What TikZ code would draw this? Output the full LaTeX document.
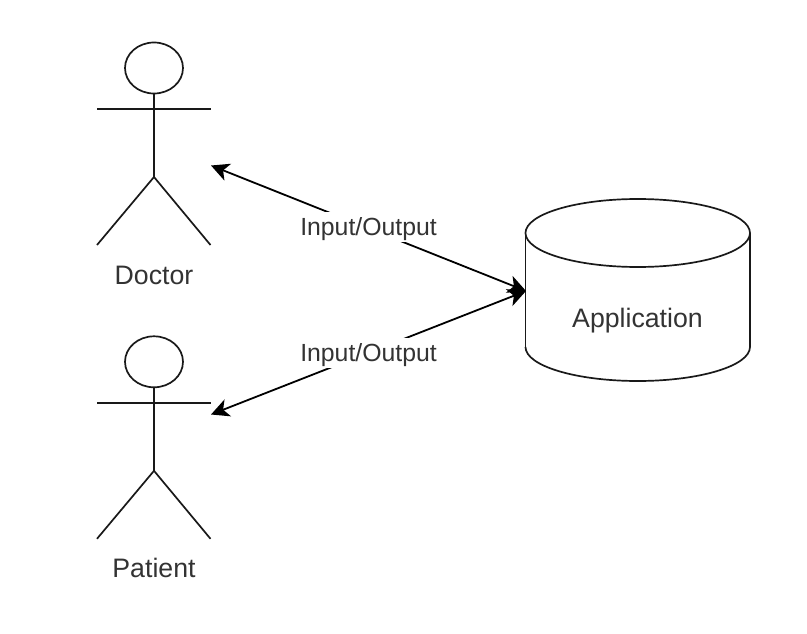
\documentclass[tikz,border=0pt]{standalone}
\usepackage{fontspec}
\setmainfont{Liberation Sans}
\usetikzlibrary{arrows.meta}
\tikzset{
  lbl/.style={font=\fontsize{26.7}{30}\selectfont,text=black!80,inner sep=0pt},
  elbl/.style={font=\fontsize{24.8}{30}\selectfont,text=black!80,fill=white,inner xsep=0pt,inner ysep=0pt,minimum height=30pt},
  ln/.style={line width=1.7pt,draw=black!90},
  conn/.style={line width=1.8pt,draw=black,{Stealth[length=18pt,width=18pt,inset=5pt]}-{Stealth[length=18pt,width=18pt,inset=5pt]}},
}
\newcommand{\actor}[2]{%
  \begin{scope}[shift={(#1,#2)}]
  \draw[ln] (0,0) ellipse (29 and 25.5);
  \draw[ln] (0,25.5) -- (0,109);
  \draw[ln] (-57,41) -- (56.5,41);
  \draw[ln] (-57,177) -- (0,109) -- (56.5,177);
  \end{scope}
}
\begin{document}
\begin{tikzpicture}[x=1pt,y=-1pt]
\useasboundingbox (0,0) rectangle (807,634);
\actor{154}{68}
\actor{154}{361.8}
\node[lbl] (doc) at (154,275.3) {Doctor};
\node[lbl] (pat) at (154,568) {Patient};
\coordinate (da) at (211,165.5);
\coordinate (pa) at (211,414.5);
\coordinate (ap) at (526,291);
% cylinder
\draw[ln] (525.5,233) -- (525.5,347);
\draw[ln] (750,233) -- (750,347);
\draw[ln] (637.75,233) ellipse (112.25 and 34);
\draw[ln] (525.5,347) arc[start angle=180,end angle=360,x radius=112.25,y radius=-34];
\node[lbl] (app) at (637.5,320.5) {Application};
\draw[conn] (da) -- (ap);
\draw[conn] (pa) -- (ap);
\node[elbl] (l1) at (368.5,227) {\raisebox{0pt}[22pt][5.4pt]{Input/Output}};
\node[elbl] (l2) at (368.5,353) {\raisebox{0pt}[22pt][5.4pt]{Input/Output}};
\end{tikzpicture}
\end{document}
